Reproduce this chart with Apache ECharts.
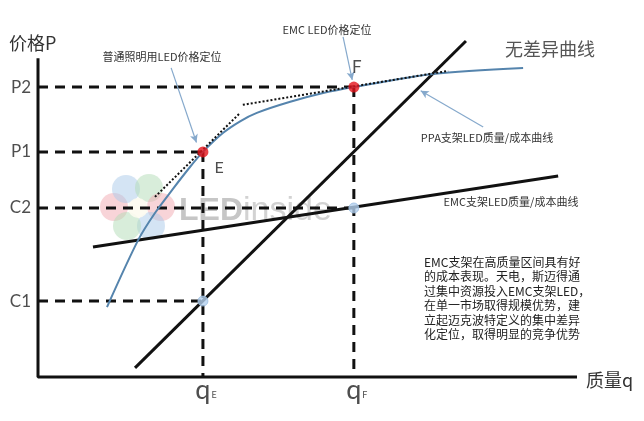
<!DOCTYPE html>
<html>
<head>
<meta charset="utf-8">
<script src="https://cdn.jsdelivr.net/npm/echarts@6/dist/echarts.min.js"></script>
<style>html,body{margin:0;padding:0;background:#fff}#c{width:644px;height:421px}</style>
</head>
<body>
<div id="c"></div>
<script>
// ---- data (conceptual units: quality 0..100, price/cost 0..100) ----
const axisTop = 94.9;           // end of price axis
const axisRight = 100;          // end of quality axis
const qTickLabels = ['E', 'F']; // subscripts of q
const qTicks = [30.6, 58.6];    // qE, qF
const pTickLabels = ['P2', 'P1', 'C2', 'C1'];
const pTicks = [86.3, 67.0, 50.3, 22.6];
const pointE = [30.6, 67.0];
const pointF = [58.6, 86.3];
const costE = [30.6, 22.6];
const costF = [58.6, 50.3];
const indifferenceCurve = [[12.8,20.8],[18.6,40.8],[21.7,48.8],[24.9,55.7],[28.2,62.5],[30.6,67.0],[34.3,72.6],[37.5,76.1],[40.6,78.6],[46.8,81.9],[52.9,84.5],[58.6,86.3],[73.3,90.2],[90.0,92.0]];
const ppaCostLine = [[18.0,2.7],[79.4,100]];
const emcCostLine = [[10.2,38.7],[96.5,59.8]];
const tangentE = [[21.7,53.6],[37.5,78.6]];
const tangentF = [[38.0,81.0],[58.6,86.5],[76.1,91.1]];

const chart = echarts.init(document.getElementById('c'));
const black = '#111';
const dash = {color: black, width: 3, type: [10, 7]};

const guideSeries = [];
// horizontal guides: P2->F, P1->E, C2->costF, C1->costE
const hTargets = [pointF, pointE, costF, costE];
hTargets.forEach((pt, i) => {
  guideSeries.push({type:'line', data:[[0, pTicks[i]], [pt[0], pTicks[i]]], symbol:'none', lineStyle: dash, z:3, silent:true, clip:false});
});
// vertical guides from E and F
[pointE, pointF].forEach((pt) => {
  guideSeries.push({type:'line', data:[[pt[0], pt[1]], [pt[0], 0]], symbol:'none', lineStyle: dash, z:3, silent:true, clip:false});
});

const annColor = '#86a9cc';
const annotations = {
  type:'line', data:[], silent:true,
  markLine: {
    silent:true, symbol:['none','arrow'], symbolSize:[6,8], animation:false,
    lineStyle:{color: annColor, width:1.2, type:'solid'}, label:{show:false},
    data:[
      [{coord:[24.7,92.0]},{coord:[29.4,69.8]}],
      [{coord:[56.6,101.2]},{coord:[58.3,88.4]}],
      [{coord:[82.6,74.4]},{coord:[71.0,85.2]}]
    ]
  }
};

const option = {
  animation:false,
  backgroundColor:'#fff',
  grid:{left:38, top:20, width:539, height:357},
  xAxis:{type:'value', min:0, max:100, show:false},
  yAxis:{type:'value', min:0, max:106.25, show:false},
  graphic:[
    // watermark
    {type:'group', z:-10, silent:true, children:[
      {type:'circle', shape:{cx:114, cy:207, r:14}, style:{fill:'#f2aab2', opacity:0.5}},
      {type:'circle', shape:{cx:126, cy:189, r:14}, style:{fill:'#a9c9ea', opacity:0.5}},
      {type:'circle', shape:{cx:149, cy:188, r:14}, style:{fill:'#b2dcb6', opacity:0.5}},
      {type:'circle', shape:{cx:161, cy:207, r:14}, style:{fill:'#f2aab2', opacity:0.5}},
      {type:'circle', shape:{cx:151, cy:226, r:14}, style:{fill:'#a9c9ea', opacity:0.5}},
      {type:'circle', shape:{cx:127, cy:226, r:14}, style:{fill:'#b2dcb6', opacity:0.5}},
      {type:'circle', shape:{cx:138, cy:208, r:10}, style:{fill:'#fdfbf0', opacity:0.9}},
      {type:'text', x:179, y:211, style:{text:'{a|LED}{b|inside}', verticalAlign:'middle',
        rich:{a:{fontSize:32, fontWeight:'bold', fontFamily:'Liberation Sans', fill:'#c6c6c6'},
              b:{fontSize:34, fontFamily:'Liberation Sans', fill:'#d2d2d2'}}}}
    ]},
    {type:'text', x:9, y:43, style:{text:'价格P', font:'18px "Noto Sans CJK SC"', fill:'#333', verticalAlign:'middle'}},
    {type:'text', x:586, y:380, style:{text:'质量q', font:'18px "Noto Sans CJK SC"', fill:'#333', verticalAlign:'middle'}},
    {type:'text', x:550, y:49, style:{text:'无差异曲线', font:'18px "Noto Sans CJK SC"', fill:'#555', align:'center', verticalAlign:'middle'}},
    {type:'text', x:162, y:57, style:{text:'普通照明用LED价格定位', font:'11px "Noto Sans CJK SC"', fill:'#333', align:'center', verticalAlign:'middle'}},
    {type:'text', x:327, y:30, style:{text:'EMC LED价格定位', font:'11px "Noto Sans CJK SC"', fill:'#333', align:'center', verticalAlign:'middle'}},
    {type:'text', x:487, y:138, style:{text:'PPA支架LED质量/成本曲线', font:'11px "Noto Sans CJK SC"', fill:'#333', align:'center', verticalAlign:'middle'}},
    {type:'text', x:511, y:202, style:{text:'EMC支架LED质量/成本曲线', font:'11px "Noto Sans CJK SC"', fill:'#333', align:'center', verticalAlign:'middle'}},
    {type:'text', x:424, y:255, style:{text:'EMC支架在高质量区间具有好\n的成本表现。天电，斯迈得通\n过集中资源投入EMC支架LED，\n在单一市场取得规模优势，建\n立起迈克波特定义的集中差异\n化定位，取得明显的竞争优势',
      font:'12px "Noto Sans CJK SC"', lineHeight:14.5, fill:'#222'}}
  ],
  series:[
    // axes
    {type:'line', data:[[0, axisTop],[0,0],[axisRight,0]], symbol:'none', lineStyle:{color:black, width:3}, z:4, silent:true, clip:false},
    ...guideSeries,
    // cost curves
    {type:'line', data:ppaCostLine, symbol:'none', lineStyle:{color:black, width:3}, z:4, silent:true, clip:false},
    {type:'line', data:emcCostLine, symbol:'none', lineStyle:{color:black, width:3}, z:4, silent:true, clip:false},
    // indifference curve
    {type:'line', data:indifferenceCurve, smooth:0.3, symbol:'none', lineStyle:{color:'#5584ad', width:2}, z:5, silent:true, clip:false},
    // tangents
    {type:'line', data:tangentE, symbol:'none', lineStyle:{color:black, width:2, type:[2,2]}, z:5, silent:true, clip:false},
    {type:'line', data:tangentF, symbol:'none', lineStyle:{color:black, width:2, type:[2,2]}, z:5, silent:true, clip:false},
    annotations,
    // cost points
    {type:'scatter', data:[costE, costF], symbolSize:10, itemStyle:{color:'#b3d0ee', borderColor:'#9dbfe2', borderWidth:1}, z:8, silent:true},
    // price points
    {type:'scatter', data:[
      {value:pointE, label:{show:true, formatter:'E', position:'right', distance:5, offset:[1,16], fontSize:16, fontFamily:'Lato', color:'#222'}},
      {value:pointF, label:{show:true, formatter:'F', position:'top', distance:6, offset:[3,0], fontSize:17, fontFamily:'Lato', color:'#222'}}
    ], symbolSize:11, itemStyle:{color:'#e3141c'}, z:9, silent:true},
    // tick labels on price axis
    {type:'scatter', data:pTicks.map((v,i)=>({value:[0,v], label:{formatter:pTickLabels[i]}})), symbolSize:0,
      label:{show:true, position:'left', distance:7, fontSize:17, fontFamily:'Lato', color:'#222'}, z:9, silent:true},
    // tick labels on quality axis
    {type:'scatter', data:qTicks.map((v,i)=>({value:[v,0], label:{formatter:'{q|q}{s|'+qTickLabels[i]+'}'}})), symbolSize:0,
      label:{show:true, position:'bottom', distance:0, offset:[3,0],
        rich:{q:{fontSize:27, fontFamily:'Lato', color:'#222'}, s:{fontSize:9, fontFamily:'Lato', color:'#222', padding:[10,0,0,1]}}}, z:9, silent:true}
  ]
};
chart.setOption(option);
</script>
</body>
</html>
